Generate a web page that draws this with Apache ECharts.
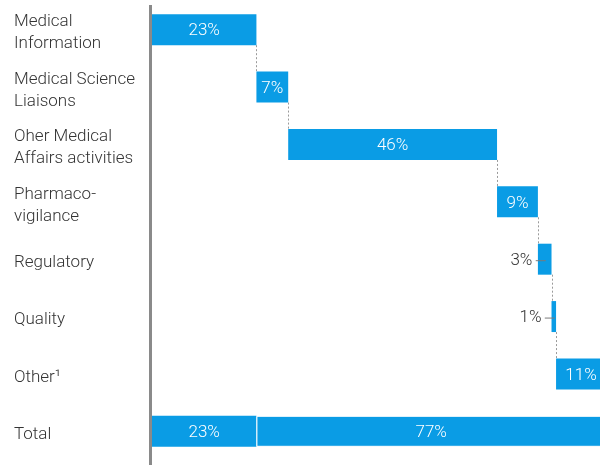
<!DOCTYPE html>
<html>
<head>
<meta charset="utf-8">
<script src="https://cdn.jsdelivr.net/npm/echarts@6/dist/echarts.min.js"></script>
<style>
html,body{margin:0;padding:0;background:#fff;}
#chart{width:600px;height:465px;}
</style>
</head>
<body>
<div id="chart"></div>
<script>
var categories = ["Medical\nInformation", "Medical Science\nLiaisons", "Oher Medical\nAffairs activities", "Pharmaco-\nvigilance", "Regulatory", "Quality", "Other\u00b9", "Total"];
var stepValues = [23, 7, 46, 9, 3, 1, 11];
var totalSplit = [23, 77];

var BLUE = '#0A9CE5';
var FONT = 'Roboto, "Liberation Sans", Arial, sans-serif';
var FS = 17;
var GRID_W = 454, X_MAX = 100;

// waterfall bases from cumulative sums
var bases = [], cum = 0, ends = [];
stepValues.forEach(function (v) { bases.push(cum); cum += v; ends.push(cum); });
var baseData = bases.concat([0]);
var valueData = stepValues.concat([totalSplit[0]]);
var restData = stepValues.map(function () { return '-'; }).concat([totalSplit[1]]);
var connectorData = [];
for (var i = 0; i < stepValues.length - 1; i++) connectorData.push([ends[i], i]);

function valueLabel(idx, v) {
  var small = idx < stepValues.length && v < 5;
  if (small) {
    return {
      show: true, position: 'insideRight', distance: v * GRID_W / X_MAX / 2 - 1, offset: [0, 1.5],
      formatter: '{t|' + v + '%} {g|}',
      rich: {
        t: { color: '#333', fontSize: FS, fontFamily: FONT, fontWeight: 300 },
        g: { width: 10, height: 1, backgroundColor: '#7a7a7a' }
      }
    };
  }
  return { show: true, position: 'inside', offset: [0, 1.5], color: '#fff', fontSize: FS, fontFamily: FONT, fontWeight: 300, formatter: v + '%' };
}

var chart = echarts.init(document.getElementById('chart'), null, { renderer: 'canvas' });
var BAR_RATIO = 0.54;
chart.setOption({
  animation: false,
  grid: { left: 152, top: 1, height: 459, width: GRID_W, outerBoundsMode: 'none', containLabel: false },
  xAxis: { type: 'value', min: 0, max: X_MAX, show: false },
  yAxis: {
    type: 'category', inverse: true, data: categories,
    axisLine: { show: false }, axisTick: { show: false }, splitLine: { show: false },
    axisLabel: {
      align: 'left', margin: 138, color: '#333', fontSize: FS, lineHeight: 22, fontFamily: FONT, fontWeight: 300,
      formatter: function (v) { return '{sp|}\n' + v; },
      rich: { sp: { height: 7, lineHeight: 7, fontSize: 1 } }
    }
  },
  graphic: [{ type: 'rect', shape: { x: 149, y: 5, width: 3, height: 460 }, style: { fill: '#8a8a8a' }, z: 100 }],
  series: [
    { type: 'bar', stack: 'w', barWidth: (BAR_RATIO * 100) + '%', data: baseData, itemStyle: { color: 'transparent' }, silent: true },
    { type: 'bar', stack: 'w', data: valueData.map(function (v, idx) {
        return { value: v, label: valueLabel(idx, v) };
      }), itemStyle: { color: BLUE } },
    { type: 'bar', stack: 'w', data: restData.map(function (v) {
        return v === '-' ? v : { value: v, label: valueLabel(99, v) };
      }), itemStyle: { color: BLUE, borderColor: '#fff', borderWidth: 1 } },
    { type: 'custom', data: connectorData, encode: { x: 0, y: 1 }, z: 1,
      renderItem: function (params, api) {
        var p1 = api.coord([api.value(0), api.value(1)]);
        var p2 = api.coord([api.value(0), api.value(1) + 1]);
        var half = api.size([0, 1])[1] * BAR_RATIO / 2;
        var x = Math.round(p1[0]) + 0.5;
        return { type: 'line', shape: { x1: x, y1: p1[1] + half, x2: x, y2: p2[1] - half },
          style: { stroke: '#9a9a9a', lineWidth: 1, lineDash: [2, 2] } };
      } }
  ]
});
</script>
</body>
</html>
